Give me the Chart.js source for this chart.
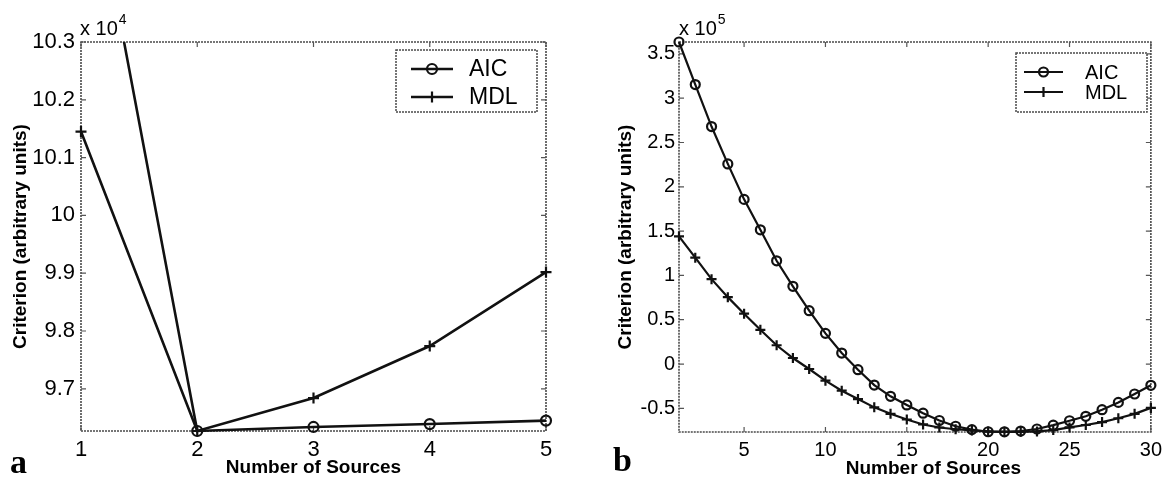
<!DOCTYPE html>
<html><head><meta charset="utf-8">
<script src="https://cdn.jsdelivr.net/npm/chart.js@4.4.1/dist/chart.umd.min.js"></script>
<style>
html,body{margin:0;padding:0;background:#fff;}
#wrap{position:relative;width:1168px;height:480px;overflow:hidden;background:#fff;}
.panel{position:absolute;top:0;height:480px;}
#pa{left:0;width:580px;}
#pb{left:580px;width:588px;}
</style></head><body>
<div id="wrap">
  <div class="panel" id="pa"><canvas id="ca"></canvas></div>
  <div class="panel" id="pb"><canvas id="cb"></canvas></div>
</div>
<script>
// ---------- Panel a (values x 10^4) ----------
const sourcesA = [1, 2, 3, 4, 5];
const aicA = [10.696, 9.627, 9.634, 9.639, 9.645];
const mdlA = [10.145, 9.627, 9.684, 9.774, 9.902];
const xTicksA = [1, 2, 3, 4, 5];
const yTicksA = [9.7, 9.8, 9.9, 10, 10.1, 10.2, 10.3];
const yTickLabelsA = ['9.7', '9.8', '9.9', '10', '10.1', '10.2', '10.3'];
const yRangeA = [9.627, 10.3];
const exponentA = '4';
const letterA = 'a';

// ---------- Panel b (values x 10^5) ----------
const sourcesB = [1,2,3,4,5,6,7,8,9,10,11,12,13,14,15,16,17,18,19,20,21,22,23,24,25,26,27,28,29,30];
const aicB = [3.634, 3.154, 2.68, 2.258, 1.858, 1.515, 1.165, 0.877, 0.602, 0.346,
              0.124, -0.064, -0.237, -0.364, -0.462, -0.555, -0.637, -0.702, -0.740, -0.764,
              -0.765, -0.756, -0.733, -0.690, -0.640, -0.590, -0.515, -0.433, -0.338, -0.240];
const mdlB = [1.44, 1.20, 0.958, 0.755, 0.568, 0.386, 0.212, 0.068, -0.056, -0.188,
              -0.301, -0.395, -0.489, -0.562, -0.626, -0.682, -0.716, -0.736, -0.750, -0.760,
              -0.765, -0.765, -0.760, -0.745, -0.715, -0.688, -0.655, -0.612, -0.562, -0.495];
const xTicksB = [5, 10, 15, 20, 25, 30];
const yTicksB = [-0.5, 0, 0.5, 1, 1.5, 2, 2.5, 3, 3.5];
const yTickLabelsB = ['-0.5', '0', '0.5', '1', '1.5', '2', '2.5', '3', '3.5'];
const yRangeB = [-0.767, 3.634];
const exponentB = '5';
const letterB = 'b';

const seriesNames = ['AIC', 'MDL'];
const xTitle = 'Number of Sources';
const yTitle = 'Criterion (arbitrary units)';

const SANS = '"Liberation Sans", Arial, Helvetica, sans-serif';
const SERIF = '"Liberation Serif", "Times New Roman", serif';

const framePlugin = {
  id: 'frame',
  beforeDatasetsDraw(chart, args, o) {
    const {ctx, chartArea: {left, right, top, bottom}, scales: {x, y}} = chart;
    ctx.save();
    ctx.strokeStyle = '#4a4a4a';
    ctx.lineWidth = 1.6;
    ctx.setLineDash([2, 1]);
    ctx.strokeRect(left, top, right - left, bottom - top);
    ctx.setLineDash([]);
    ctx.lineWidth = 1.2;
    ctx.strokeStyle = '#555';
    const L = o.tick || 5;
    ctx.beginPath();
    x.ticks.forEach(t => {
      const px = x.getPixelForValue(t.value);
      ctx.moveTo(px, bottom); ctx.lineTo(px, bottom - L);
      ctx.moveTo(px, top); ctx.lineTo(px, top + L);
    });
    y.ticks.forEach(t => {
      const py = y.getPixelForValue(t.value);
      ctx.moveTo(left, py); ctx.lineTo(left + L, py);
      ctx.moveTo(right, py); ctx.lineTo(right - L, py);
    });
    ctx.stroke();
    ctx.restore();
  }
};

const boxLegendPlugin = {
  id: 'boxLegend',
  afterDatasetsDraw(chart, args, o) {
    const ctx = chart.ctx;
    ctx.save();
    ctx.fillStyle = '#fff';
    ctx.fillRect(o.x, o.y, o.w, o.h);
    ctx.strokeStyle = '#4a4a4a';
    ctx.lineWidth = 1.5;
    ctx.setLineDash([2, 1]);
    ctx.strokeRect(o.x, o.y, o.w, o.h);
    ctx.setLineDash([]);
    chart.data.datasets.forEach((ds, i) => {
      const cy = o.rows[i];
      ctx.strokeStyle = ds.borderColor;
      ctx.lineWidth = ds.borderWidth;
      ctx.beginPath(); ctx.moveTo(o.lx0, cy); ctx.lineTo(o.lx1, cy); ctx.stroke();
      const cx = (o.lx0 + o.lx1) / 2, r = ds.pointRadius;
      ctx.lineWidth = ds.pointBorderWidth;
      ctx.beginPath();
      if (ds.pointStyle === 'circle') {
        ctx.arc(cx, cy, r, 0, Math.PI * 2);
      } else {
        ctx.moveTo(cx - r, cy); ctx.lineTo(cx + r, cy);
        ctx.moveTo(cx, cy - r); ctx.lineTo(cx, cy + r);
      }
      ctx.stroke();
      ctx.fillStyle = '#000';
      ctx.font = o.font;
      ctx.textAlign = 'left';
      ctx.textBaseline = 'middle';
      ctx.fillText(ds.label, o.tx, cy + 1);
    });
    ctx.restore();
  }
};

const decorPlugin = {
  id: 'decor',
  afterDraw(chart, args, o) {
    const ctx = chart.ctx;
    const {left} = chart.chartArea;
    ctx.save();
    ctx.fillStyle = '#000';
    ctx.textBaseline = 'alphabetic';
    ctx.textAlign = 'left';
    ctx.font = o.expFont;
    const base = 'x 10';
    ctx.fillText(base, left + o.expDx, o.expY);
    const w = ctx.measureText(base).width;
    ctx.font = o.supFont;
    ctx.fillText(o.exponent, left + o.expDx + w + 1, o.expY - 11);
    ctx.font = 'bold 34px ' + SERIF;
    ctx.fillText(o.letter, o.letterX, o.letterY);
    ctx.restore();
  }
};

function makeChart(id, cfg) {
  const ds = (label, data, style, r, bw, lw, clip) => ({
    label, data: cfg.xs.map((x, i) => ({x, y: data[i]})),
    borderColor: '#111', borderWidth: lw, pointStyle: style, pointRadius: r,
    pointBorderWidth: bw, pointBackgroundColor: 'rgba(0,0,0,0)', pointBorderColor: '#111',
    pointHoverRadius: r, tension: 0, fill: false, clip
  });
  return new Chart(document.getElementById(id), {
    type: 'line',
    data: {
      datasets: [
        ds(seriesNames[0], cfg.aic, 'circle', cfg.r, cfg.pbw, cfg.lw, cfg.clipAic),
        ds(seriesNames[1], cfg.mdl, 'cross', cfg.r + 0.5, cfg.pbw, cfg.lw, false)
      ]
    },
    options: {
      responsive: true, maintainAspectRatio: false, animation: false,
      devicePixelRatio: 1,
      layout: {padding: cfg.pad},
      plugins: {
        legend: {display: false}, tooltip: {enabled: false},
        frame: {tick: 5},
        boxLegend: cfg.legend,
        decor: cfg.decor
      },
      scales: {
        x: {
          type: 'linear', position: 'bottom', min: cfg.xs[0], max: cfg.xs[cfg.xs.length - 1],
          afterBuildTicks: s => { s.ticks = cfg.xTicks.map(v => ({value: v})); },
          afterFit: s => { s.height = cfg.xH; },
          grid: {display: false, drawTicks: false}, border: {display: false},
          ticks: {color: '#000', font: {family: SANS, size: cfg.tickSize}, padding: cfg.xPad,
                  maxRotation: 0, autoSkip: false, callback: v => String(v)},
          title: {display: true, text: ' '.repeat(cfg.xTitleShift) + xTitle, color: '#000',
                  font: {family: SANS, size: 19, weight: 'bold'}, padding: {top: 0, bottom: cfg.xTitlePad}}
        },
        y: {
          type: 'linear', position: 'left', min: cfg.yRange[0], max: cfg.yRange[1],
          afterBuildTicks: s => { s.ticks = cfg.yTicks.map(v => ({value: v})); },
          afterFit: s => { s.width = cfg.yW; },
          grid: {display: false, drawTicks: false}, border: {display: false},
          ticks: {color: '#000', font: {family: SANS, size: cfg.tickSize}, padding: cfg.yPad,
                  autoSkip: false, callback: (v, i) => cfg.yLabels[i]},
          title: {display: true, text: yTitle, color: '#000',
                  font: {family: SANS, size: 19, weight: 'bold'}, padding: {top: 3, bottom: 0}}
        }
      }
    },
    plugins: [framePlugin, boxLegendPlugin, decorPlugin]
  });
}

makeChart('ca', {
  xs: sourcesA, aic: aicA, mdl: mdlA, xTicks: xTicksA, yTicks: yTicksA, yLabels: yTickLabelsA,
  yRange: yRangeA, pad: {left: 6, top: 42, right: 34, bottom: 0},
  xH: 49, yW: 75, tickSize: 22, xPad: 6, yPad: 6, xTitlePad: 1, xTitleShift: 0,
  r: 5, pbw: 2.2, lw: 2.6, clipAic: {left: 8, top: 0, right: 8, bottom: 8},
  legend: {x: 396, y: 50, w: 141, h: 62, rows: [69, 97], lx0: 411, lx1: 453, tx: 469,
           font: '23px ' + SANS},
  decor: {exponent: exponentA, letter: letterA, expFont: '20px ' + SANS, supFont: '14px ' + SANS,
          expDx: -1, expY: 35, letterX: 10, letterY: 473}
});

makeChart('cb', {
  xs: sourcesB, aic: aicB, mdl: mdlB, xTicks: xTicksB, yTicks: yTicksB, yLabels: yTickLabelsB,
  yRange: yRangeB, pad: {left: 31, top: 42, right: 17, bottom: 0},
  xH: 48, yW: 68, tickSize: 20, xPad: 6, yPad: 4, xTitlePad: 0, xTitleShift: 7,
  r: 4.5, pbw: 2.2, lw: 2.2, clipAic: false,
  legend: {x: 436, y: 53, w: 131, h: 59, rows: [72, 92], lx0: 444, lx1: 483, tx: 505,
           font: '20px ' + SANS},
  decor: {exponent: exponentB, letter: letterB, expFont: '20px ' + SANS, supFont: '14px ' + SANS,
          expDx: 0, expY: 35, letterX: 33, letterY: 471}
});
</script>
</body></html>
